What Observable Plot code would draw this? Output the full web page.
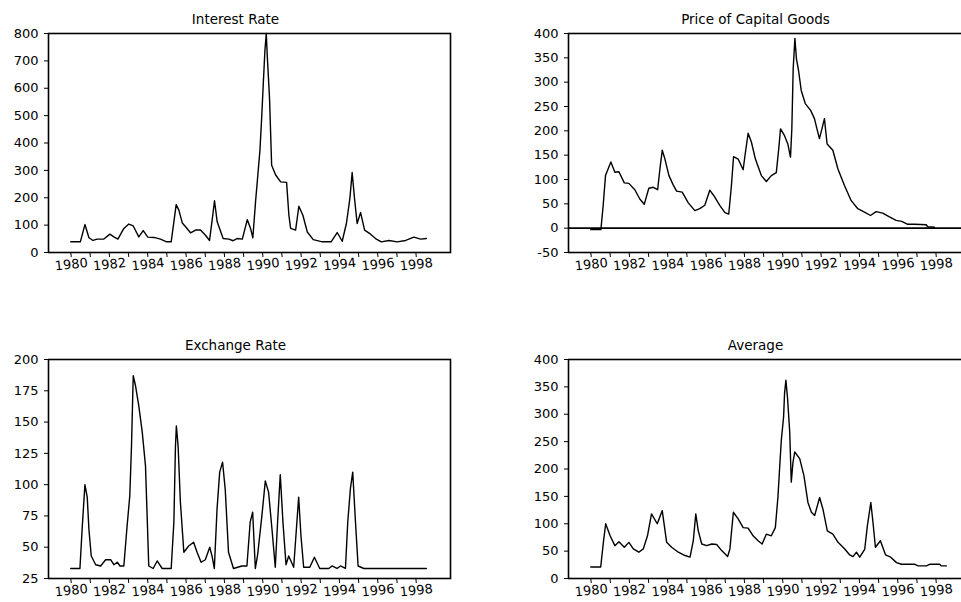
<!DOCTYPE html>
<html>
<head>
<meta charset="utf-8">
<script src="https://cdn.jsdelivr.net/npm/d3@7"></script>
<script src="https://cdn.jsdelivr.net/npm/@observablehq/plot@0.6"></script>
<style>
  html, body { margin: 0; padding: 0; background: #fff; }
  #wrap { position: relative; width: 961px; height: 602px; overflow: hidden; background: #fff; }
  .panel { position: absolute; }
  .panel svg { max-width: none !important; }
</style>
</head>
<body>
<div id="wrap">
  <div class="panel" id="p1" style="left:0px;top:0px;width:480px;height:300px"></div>
  <div class="panel" id="p2" style="left:480px;top:0px;width:500px;height:300px"></div>
  <div class="panel" id="p3" style="left:0px;top:300px;width:480px;height:302px"></div>
  <div class="panel" id="p4" style="left:480px;top:300px;width:500px;height:302px"></div>
</div>
<script>
// ---- Data ----
const titles = ["Interest Rate", "Price of Capital Goods", "Exchange Rate", "Average"];
const yearTicks = [1980,1981,1982,1983,1984,1985,1986,1987,1988,1989,1990,1991,1992,1993,1994,1995,1996,1997,1998];

const interestYears = [1980.0,1980.5,1980.74,1980.95,1981.16,1981.38,1981.73,1982.04,1982.25,1982.46,1982.77,1983.03,1983.26,1983.55,1983.78,1984.02,1984.34,1984.68,1985.0,1985.24,1985.5,1985.64,1985.82,1985.99,1986.25,1986.51,1986.77,1987.03,1987.24,1987.38,1987.5,1987.64,1987.95,1988.25,1988.47,1988.68,1988.95,1989.21,1989.38,1989.5,1989.64,1989.76,1989.87,1989.96,1990.04,1990.13,1990.2,1990.25,1990.37,1990.48,1990.69,1990.95,1991.26,1991.38,1991.47,1991.73,1991.9,1992.11,1992.34,1992.65,1993.12,1993.58,1993.9,1994.16,1994.38,1994.56,1994.68,1994.8,1994.94,1995.12,1995.33,1995.64,1995.9,1996.2,1996.6,1997.03,1997.47,1997.9,1998.25,1998.55];
const interestValues = [39,39,102,54,44,49,49,67,57,49,88,104,97,57,80,56,55,49,39,39,175,155,108,94,72,82,82,63,44,120,189,112,51,49,43,51,49,120,88,54,185,283,374,492,611,739,800,721,563,319,283,258,256,136,88,82,169,136,75,47,39,39,73,41,106,197,292,200,106,146,82,67,51,39,44,39,44,56,49,51];

const capitalYears = [1980.0,1980.53,1980.65,1980.77,1981.05,1981.26,1981.47,1981.75,1981.99,1982.3,1982.56,1982.79,1983.03,1983.26,1983.49,1983.61,1983.73,1983.87,1984.08,1984.3,1984.48,1984.77,1985.09,1985.43,1985.69,1985.95,1986.21,1986.47,1986.73,1987.0,1987.2,1987.34,1987.45,1987.69,1987.95,1988.07,1988.21,1988.38,1988.59,1988.9,1989.16,1989.42,1989.68,1989.8,1989.9,1990.11,1990.28,1990.42,1990.49,1990.56,1990.65,1990.73,1990.84,1990.98,1991.19,1991.47,1991.67,1991.8,1991.93,1992.06,1992.19,1992.33,1992.63,1992.89,1993.23,1993.58,1993.93,1994.28,1994.59,1994.89,1995.23,1995.58,1995.93,1996.22,1996.54,1996.89,1997.5,1997.58,1997.93];
const capitalValues = [-3,-3,47,108,136,115,116,93,92,79,60,49,82,84,79,122,160,142,108,89,76,74,52,36,40,47,78,64,47,32,29,88,147,142,120,156,195,177,142,108,96,108,114,160,204,190,173,146,204,327,390,348,324,283,256,242,225,204,184,204,225,173,160,122,88,57,40,33,26,34,31,23,16,14,8,8,7,3,2];

const exchangeYears = [1980.0,1980.48,1980.6,1980.74,1980.86,1980.95,1981.07,1981.3,1981.56,1981.82,1982.08,1982.25,1982.43,1982.57,1982.77,1982.94,1983.08,1983.17,1983.26,1983.38,1983.55,1983.73,1983.9,1984.07,1984.3,1984.51,1984.77,1985.24,1985.38,1985.46,1985.51,1985.6,1985.72,1985.9,1986.15,1986.41,1986.59,1986.8,1987.02,1987.25,1987.37,1987.49,1987.63,1987.77,1987.92,1988.06,1988.23,1988.49,1988.93,1989.19,1989.36,1989.49,1989.63,1989.75,1989.97,1990.15,1990.32,1990.5,1990.67,1990.79,1990.93,1991.07,1991.23,1991.37,1991.63,1991.75,1991.89,1992.01,1992.15,1992.47,1992.71,1992.99,1993.46,1993.63,1993.89,1994.07,1994.33,1994.45,1994.59,1994.71,1994.85,1994.99,1995.29,1998.55];
const exchangeValues = [33,33,66,100,90,64,43,36,35,40,40,36,38,35,35,67,91,131,187,179,163,142,115,35,33,39,33,33,70,129,147,131,86,46,51,54,46,38,40,50,43,33,80,110,118,96,46,33,35,35,70,78,33,44,75,103,94,64,34,70,108,70,36,43,34,60,90,59,34,34,42,33,33,35,33,35,33,70,97,110,71,35,33,33];

const averageYears = [1980.0,1980.52,1980.66,1980.78,1981.01,1981.26,1981.47,1981.75,1981.99,1982.22,1982.51,1982.74,1982.96,1983.17,1983.47,1983.73,1983.96,1984.22,1984.57,1984.92,1985.18,1985.35,1985.48,1985.61,1985.79,1986.05,1986.31,1986.57,1986.83,1987.14,1987.26,1987.44,1987.69,1987.95,1988.21,1988.47,1988.73,1988.94,1989.16,1989.42,1989.63,1989.77,1989.86,1989.94,1990.06,1990.11,1990.18,1990.27,1990.38,1990.46,1990.55,1990.64,1990.9,1991.12,1991.33,1991.51,1991.68,1991.94,1992.11,1992.34,1992.63,1992.9,1993.25,1993.51,1993.68,1993.86,1994.03,1994.29,1994.43,1994.61,1994.73,1994.85,1995.11,1995.38,1995.65,1995.95,1996.21,1996.91,1997.08,1997.51,1997.68,1998.2,1998.29,1998.55];
const averageValues = [21,21,66,100,78,60,67,57,66,54,48,54,78,118,100,124,66,57,48,42,39,69,118,87,63,60,63,62,51,40,54,121,109,93,92,78,69,63,81,78,93,151,206,252,295,338,362,328,267,176,212,231,219,188,139,121,115,148,127,87,81,66,54,43,40,48,39,53,96,139,100,57,69,43,39,29,26,26,23,23,26,26,23,23];

const yTicks1 = [0,100,200,300,400,500,600,700,800];
const yTicks2 = [-50,0,50,100,150,200,250,300,350,400];
const yTicks3 = [25,50,75,100,125,150,175,200];
const yTicks4 = [0,50,100,150,200,250,300,350,400];

// ---- Drawing ----
const FONT = "DejaVu Sans, sans-serif";
function panel({years, values, title, yTicks, width, height, mLeft, mRight, mTop, mBottom, zeroRule}) {
  const data = years.map((t, i) => ({t, v: values[i]}));
  const yDomain = [yTicks[0], yTicks[yTicks.length - 1]];
  return Plot.plot({
    width, height,
    marginLeft: mLeft, marginRight: mRight, marginTop: mTop, marginBottom: mBottom,
    style: {fontFamily: FONT, fontSize: "13px", background: "#fff", color: "#000", overflow: "visible", maxWidth: "none"},
    x: {domain: [1978.84, 1999.81]},
    y: {domain: yDomain},
    marks: [
      zeroRule ? Plot.ruleY([0], {stroke: "#000", strokeWidth: 1.6}) : null,
      Plot.line(data, {x: "t", y: "v", stroke: "#000", strokeWidth: 1.4}),
      Plot.frame({stroke: "#000", strokeWidth: 1.6}),
      Plot.axisY({ticks: yTicks, tickSize: 4, tickPadding: 6, tickFormat: d => String(d), label: null, fontSize: 13}),
      Plot.axisX({ticks: yearTicks, tickSize: 5, tickPadding: 2, rotate: -6, textAnchor: "middle",
                  tickFormat: d => (d % 2 === 0 ? String(d) : ""), label: null, fontSize: 13}),
      Plot.text([title], {frameAnchor: "top", lineAnchor: "bottom", dy: -10, dx: -14, fontSize: 13.5, fill: "#000"})
    ]
  });
}

document.getElementById("p1").append(panel({years: interestYears, values: interestValues, title: titles[0], yTicks: yTicks1,
  width: 480, height: 300, mLeft: 48, mRight: 30, mTop: 33, mBottom: 48}));
document.getElementById("p2").append(panel({years: capitalYears, values: capitalValues, title: titles[1], yTicks: yTicks2,
  width: 500, height: 300, mLeft: 88, mRight: 10, mTop: 33, mBottom: 48, zeroRule: true}));
document.getElementById("p3").append(panel({years: exchangeYears, values: exchangeValues, title: titles[2], yTicks: yTicks3,
  width: 480, height: 302, mLeft: 48, mRight: 30, mTop: 59, mBottom: 24}));
document.getElementById("p4").append(panel({years: averageYears, values: averageValues, title: titles[3], yTicks: yTicks4,
  width: 500, height: 302, mLeft: 88, mRight: 10, mTop: 59, mBottom: 24}));
</script>
</body>
</html>
